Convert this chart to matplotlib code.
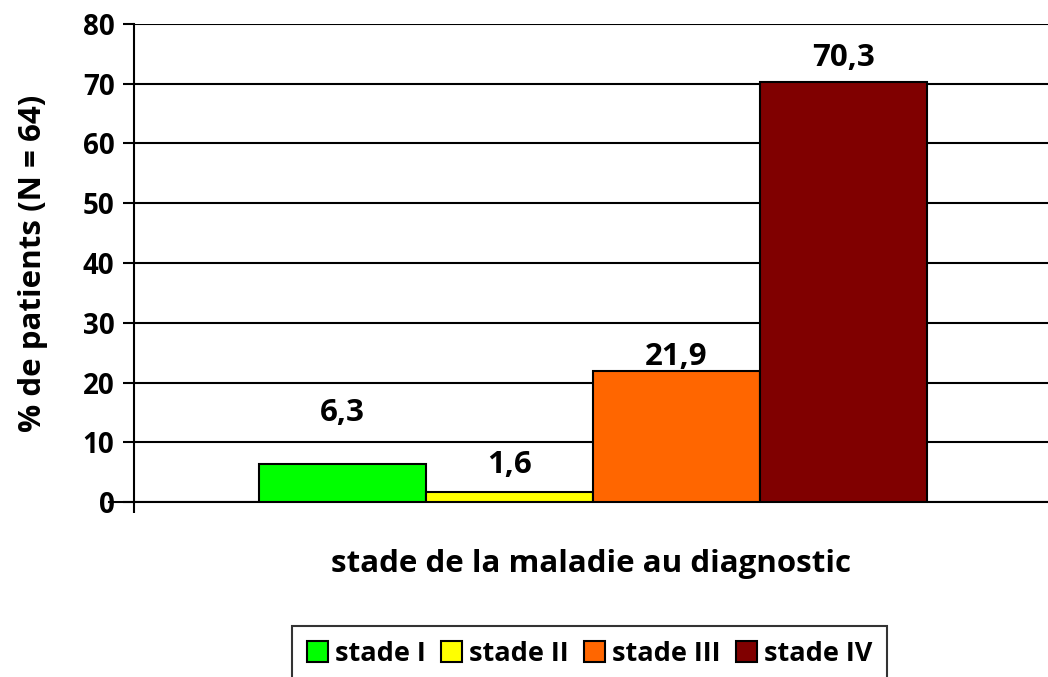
import matplotlib.pyplot as plt
import matplotlib.patches as mpatches

stages = ['stade I', 'stade II', 'stade III', 'stade IV']
values = [6.3, 1.6, 21.9, 70.3]
labels = ['6,3', '1,6', '21,9', '70,3']
colors = ['#00ff00', '#ffff00', '#ff6600', '#800000']
# gap between bar top and its value label (Excel placed them unevenly)
label_gap = [8.6, 4.6, 2.4, 4.0]

plt.rcParams['font.family'] = ['Open Sans', 'DejaVu Sans']
plt.rcParams['font.weight'] = 'bold'

fig = plt.figure(figsize=(10.48, 6.77), dpi=100)
ax = fig.add_axes([134 / 1048, 1 - 502 / 677, 1 - 134 / 1048, (502 - 24) / 677])

x = range(len(values))
ax.bar(x, values, width=1.0, color=colors, edgecolor='black', linewidth=1.5, zorder=3)
for xi, v, lab, g in zip(x, values, labels, label_gap):
    ax.text(xi, v + g, lab, ha='center', va='center', fontsize=22.5, fontweight='bold')

ax.set_ylim(0, 80)
ax.set_xlim(-1.2485, 4.2246)
ax.set_yticks(range(0, 81, 10))
ax.set_xticks([-1.2485])
ax.set_xticklabels([''])
ax.yaxis.grid(True, color='black', linewidth=1.5, zorder=0)
ax.tick_params(axis='y', labelsize=20, width=1.5, length=8, pad=6)
ax.tick_params(axis='x', width=1.5, length=8)
for s in ['top', 'right']:
    ax.spines[s].set_visible(False)
ax.spines['left'].set_linewidth(1.5)
ax.spines['bottom'].set_linewidth(1.5)
ax.spines['bottom'].set_bounds(-1.4, 4.2246)
ax.spines['bottom'].set_clip_on(False)

ax.set_ylabel('% de patients (N = 64)', fontsize=22.5, fontweight='bold', labelpad=25)
ax.set_xlabel('stade de la maladie au diagnostic', fontsize=22.5, fontweight='bold', labelpad=22)

handles = [mpatches.Patch(facecolor=c, edgecolor='black', linewidth=1.5, label=s)
           for c, s in zip(colors, stages)]
leg = fig.legend(handles=handles, loc='lower center', bbox_to_anchor=(0.5625, -0.019),
                 ncol=4, fontsize=19.5, frameon=True, fancybox=False, edgecolor='black',
                 handlelength=0.8, handleheight=0.8, handletextpad=0.25, columnspacing=0.55,
                 borderpad=0.55, borderaxespad=0.3)
leg.get_frame().set_linewidth(1.5)

fig.savefig('out.png', dpi=100)
